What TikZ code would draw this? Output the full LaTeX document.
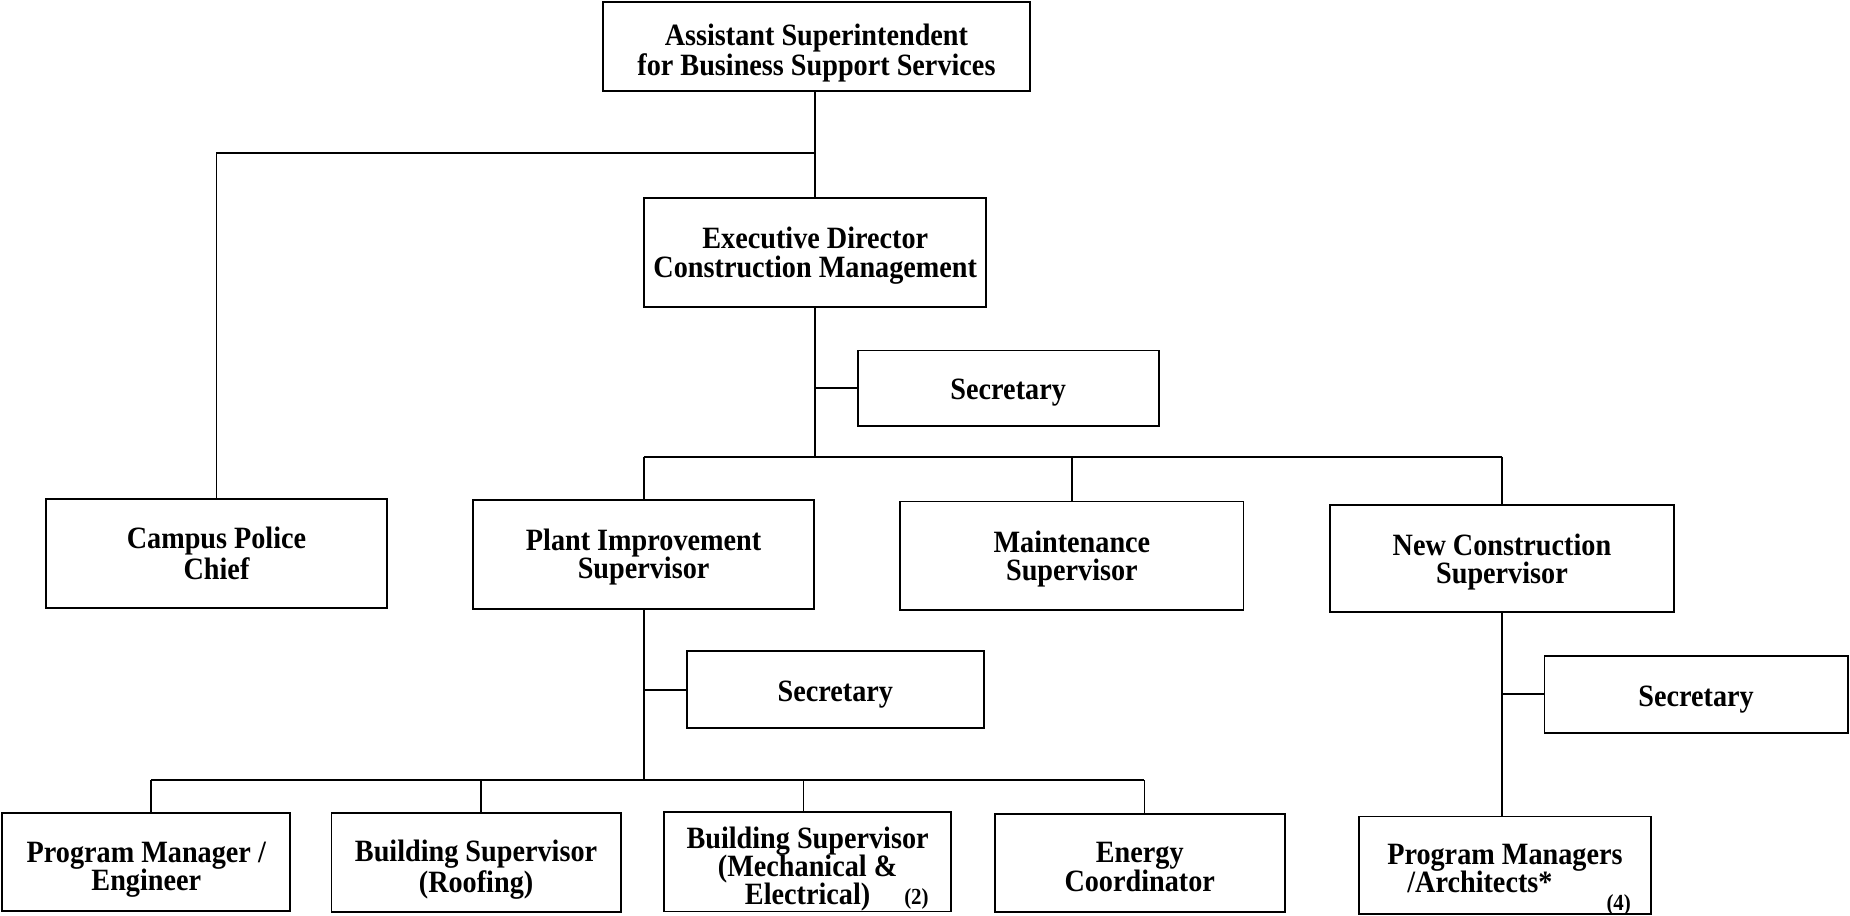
\documentclass[tikz,border=0pt]{standalone}
\usepackage{fontspec}
\newfontfamily\chartfont{Liberation Serif}[FakeStretch=0.91]
\newcommand{\chartnote}[1]{{\fontsize{11.5}{13}\selectfont #1}}
% strut on a first line, to set the text a little lower in its box
\newcommand{\lift}[1]{\rule{0pt}{#1}}
\tikzset{
  orgbox/.style={draw, line width=0.9pt, align=center, inner sep=0pt,
    font=\chartfont\bfseries\fontsize{15.5}{14.2}\selectfont},
  boxsize/.style 2 args={minimum width={#1*0.58992pt}, minimum height={#2*0.58992pt}},
  link/.style={line width=0.9pt}
}
\begin{document}
\begin{tikzpicture}[x=0.58992pt, y=-0.58992pt]
\useasboundingbox (0,0) rectangle (1568,776);

% top level
\node[orgbox, boxsize={362}{75}] (top) at (692,39.5) {\lift{17pt}Assistant Superintendent\\for Business Support Services};
\node[orgbox, boxsize={290}{92}] (exec) at (691,214) {\lift{14pt}Executive Director\\Construction Management};
\node[orgbox, boxsize={255}{64}] (sec1) at (854.5,329) {\lift{15pt}Secretary};

% second level
\node[orgbox, boxsize={289}{92}] (police) at (183.5,469) {Campus Police\\Chief};
\node[orgbox, boxsize={289}{92}] (plant) at (545.5,470) {\lift{13pt}Plant Improvement\\Supervisor};
\node[orgbox, boxsize={291}{92}] (maint) at (908.5,471) {\lift{14pt}Maintenance\\Supervisor};
\node[orgbox, boxsize={292}{91}] (newc) at (1273,473.5) {\lift{14pt}New Construction\\Supervisor};

\node[orgbox, boxsize={252}{65}] (sec2) at (708,584.5) {\lift{15pt}Secretary};
\node[orgbox, boxsize={257}{65}] (sec3) at (1437.5,588.5) {\lift{15pt}Secretary};

% bottom level
\node[orgbox, boxsize={244}{83}] (pm) at (124,730.5) {\lift{18pt}Program Manager /\\Engineer};
\node[orgbox, boxsize={245}{84}] (bsr) at (403.5,731) {\lift{18pt}Building Supervisor\\(Roofing)};
\node[orgbox, boxsize={243}{83}] (bsme) at (684.5,730.5)
  {\lift{18pt}Building Supervisor\\(Mechanical \&\\Electrical)\rlap{\hspace{17pt}\chartnote{(2)}}};
\node[orgbox, boxsize={246}{83}] (energy) at (966,731.5) {\lift{14pt}Energy\\Coordinator};
\node[orgbox, boxsize={247}{83}] (pma) at (1275.5,733.5)
  {\lift{13pt}Program Managers\\/Architects*\rlap{\hspace{27pt}\raisebox{-9pt}[0pt][0pt]{\chartnote{(4)}}}\hspace*{25pt}};

% junction points
\coordinate (j1) at (691,130);
\coordinate (bus1) at (691,387);
\coordinate (b1) at (128,661);
\coordinate (b2) at (408,661);
\coordinate (b3) at (681,661);
\coordinate (b4) at (970,661);

% connectors
\draw[link] (exec.north |- top.south) -- (exec.north);
\draw[link] (j1) -| (police.north);
\draw[link] (exec.south) -- (bus1);
\draw[link] (exec.south |- sec1.west) -- (sec1.west);
\draw[link] (plant.north |- bus1) -- (newc.north |- bus1);
\draw[link] (plant.north |- bus1) -- (plant.north);
\draw[link] (maint.north |- bus1) -- (maint.north);
\draw[link] (newc.north |- bus1) -- (newc.north);

\draw[link] (plant.south) -- (plant.south |- b1);
\draw[link] (plant.south |- sec2.west) -- (sec2.west);
\draw[link] (b1) -- (b4);
\draw[link] (b1) -- (b1 |- pm.north);
\draw[link] (b2) -- (b2 |- bsr.north);
\draw[link] (b3) -- (b3 |- bsme.north);
\draw[link] (b4) -- (b4 |- energy.north);

\draw[link] (newc.south) -- (newc.south |- pma.north);
\draw[link] (newc.south |- sec3.west) -- (sec3.west);
\end{tikzpicture}
\end{document}
